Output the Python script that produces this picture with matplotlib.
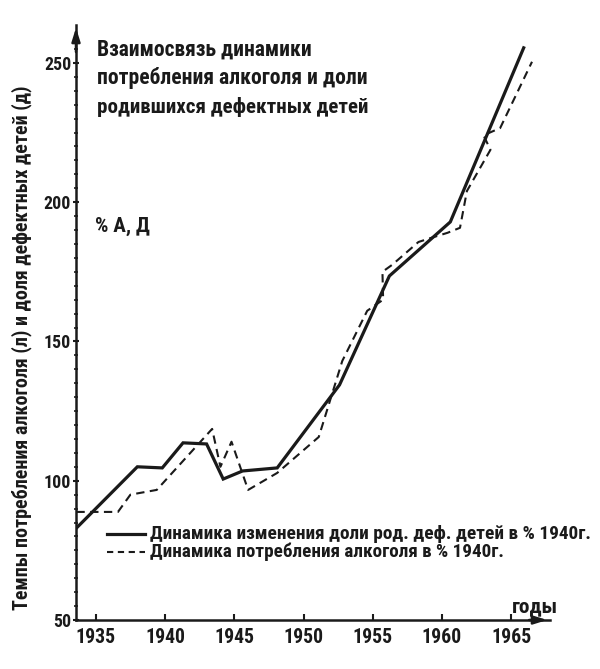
import math
import matplotlib
matplotlib.use("Agg")
import matplotlib.pyplot as plt
import matplotlib.font_manager as fm
from matplotlib.font_manager import FontProperties
from matplotlib.textpath import TextToPath
from matplotlib.ft2font import FT2Font
from matplotlib.ticker import MultipleLocator

# Solid: share of children born with defects (% of 1940)
defect_years = [1933.6, 1938.0, 1939.8, 1941.3, 1943.0, 1944.2, 1945.6, 1948.1,
                1952.6, 1956.2, 1960.6, 1965.9]
defect_vals = [83, 105, 104.6, 113.6, 113.2, 100.6, 103.5, 104.6,
               134.4, 173.5, 192.9, 255.4]

# Dashed: alcohol consumption (% of 1940)
alc_years = [1933.6, 1936.6, 1937.5, 1939.4, 1943.4, 1944.0, 1944.8, 1946.0,
             1948.1, 1951.1, 1952.8, 1954.6, 1955.75, 1955.7, 1956.4, 1958.3,
             1959.1, 1960.4, 1961.3, 1961.8, 1963.5, 1963.0, 1964.2, 1966.5]
alc_vals = [88.8, 88.8, 95, 96.7, 118.6, 105, 114, 96.7,
            102.8, 115.7, 143, 161, 165, 175, 177.5, 185.7,
            187, 189, 190.8, 204, 218.8, 224, 226.6, 250.4]

x_ticks = [1935, 1940, 1945, 1950, 1955, 1960, 1965]
y_ticks = [50, 100, 150, 200, 250]

title_lines = ["Взаимосвязь динамики",
               "потребления алкоголя и доли",
               "родившихся дефектных детей"]
ylabel = "Темпы потребления алкоголя (л) и доля дефектных детей (д)"
legend_defect = "Динамика изменения доли род. деф. детей в % 1940г."
legend_alc = "Динамика потребления алкоголя в % 1940г."


def pick_font():
    """Choose an installed bold sans font whose width/cap-height ratio is
    closest to the narrow heavy face of the reference."""
    target_ratio = 271 / 15.5
    t2p = TextToPath()
    best = None
    seen = set()
    for f in fm.fontManager.ttflist:
        key = f.fname.lower()
        if f.fname in seen or 'mono' in key or 'italic' in key or 'oblique' in key:
            continue
        if 'cjk' in key or ('serif' in key and 'sans' not in key):
            continue
        seen.add(f.fname)
        try:
            ft = FT2Font(f.fname)
            if ft.get_char_index(ord('Д')) == 0 or ft.get_char_index(ord('%')) == 0:
                continue
            prop = FontProperties(fname=f.fname, size=100)
            w, _, _ = t2p.get_text_width_height_descent(title_lines[1], prop, ismath=False)
            _, hc, dc = t2p.get_text_width_height_descent('В', prop, ismath=False)
            ch = hc - dc
            if ch <= 0:
                continue
            ratio = w / ch
        except Exception:
            continue
        wt = f.weight
        try:
            wt = int(wt)
        except Exception:
            wt = 700 if 'bold' in str(wt).lower() else 400
        score = abs(math.log(ratio / target_ratio))
        if wt < 600:
            score += 0.35
        score += abs(wt - 750) / 2000.0
        if best is None or score < best[0]:
            best = (score, f.fname)
    if best is not None:
        return FontProperties(fname=best[1])
    return FontProperties(family='DejaVu Sans', weight='bold')


FP = pick_font()


def fp(size):
    p = FP.copy()
    p.set_size(size)
    return p


ink = '#1a1a1a'
W, H = 600, 669
fig = plt.figure(figsize=(6.0, 6.69), dpi=100)
ax = fig.add_axes([76 / W, (H - 620) / H, (550 - 76) / W, (620 - 25) / H])
ax.set_xlim(1933.57, 1967.8)
ax.set_ylim(50, 263.6)

ax.plot(defect_years, defect_vals, color=ink, lw=2.3, solid_joinstyle='miter')
ax.plot(alc_years, alc_vals, color=ink, lw=1.5, linestyle=(0, (4, 2.6)))

for s in ['top', 'right']:
    ax.spines[s].set_visible(False)
for s in ['left', 'bottom']:
    ax.spines[s].set_linewidth(1.8)
    ax.spines[s].set_color(ink)

ax.set_xticks(x_ticks)
ax.set_yticks(y_ticks)
ax.yaxis.set_minor_locator(MultipleLocator(5))
ax.tick_params(axis='x', direction='in', length=4, width=1.5, pad=6, colors=ink)
ax.tick_params(axis='y', which='major', direction='inout', length=5, width=1.5, pad=1, colors=ink)
ax.tick_params(axis='y', which='minor', direction='inout', length=3, width=1.2, colors=ink)

ax.annotate('', xy=(0, 1.0), xytext=(0, 0.95), xycoords='axes fraction',
            arrowprops=dict(arrowstyle='-|>,head_length=0.8,head_width=0.25', color=ink, lw=1.8))
ax.annotate('', xy=(1.0, 0), xytext=(0.95, 0), xycoords='axes fraction',
            arrowprops=dict(arrowstyle='-|>,head_length=0.8,head_width=0.25', color=ink, lw=1.8))

texts = []  # (text, target_px, measure 'w' or 'h')


def put(x, y, s, target, size=12, rot=0, ha='left', dim='w'):
    t = fig.text(x / W, 1 - y / H, s, fontproperties=fp(size), color=ink,
                 rotation=rot, va='center', ha=ha)
    texts.append((t, target, dim))
    return t


put(97, 50, title_lines[0], 215, 16)
put(97, 78, title_lines[1], 271, 16)
put(97, 107, title_lines[2], 273, 16)
put(95, 226, "% А, Д", 55, 13)
put(22, 348, ylabel, 527, 12, rot=90, ha='center', dim='h')
put(512, 607, "годы", 46, 13)
put(150, 534, legend_defect, 440, 11)
put(150, 552, legend_alc, 353, 11)

ax.plot([107 / W, 145 / W], [1 - 534 / H] * 2, transform=fig.transFigure, color=ink, lw=2.3)
ax.plot([107 / W, 145 / W], [1 - 552 / H] * 2, transform=fig.transFigure, color=ink, lw=1.5,
        linestyle=(0, (3, 2.2)))

for lab in ax.get_xticklabels():
    lab.set_fontproperties(fp(13))
for lab in ax.get_yticklabels():
    lab.set_fontproperties(fp(12))

renderer = fig.canvas.get_renderer()
for _ in range(2):
    for t, target, dim in texts:
        bb = t.get_window_extent(renderer)
        cur = bb.width if dim == 'w' else bb.height
        if cur > 0:
            t.set_fontsize(t.get_fontsize() * target / cur)

# fit tick label sizes (x labels ~40 px wide, y labels ~27 px wide)
fig.canvas.draw()
xl = ax.get_xticklabels()[1]
xs = xl.get_fontsize() * 40 / max(xl.get_window_extent(renderer).width, 1)
yl = ax.get_yticklabels()[1]
ys = yl.get_fontsize() * 27 / max(yl.get_window_extent(renderer).width, 1)
for lab in ax.get_xticklabels():
    lab.set_fontproperties(fp(xs))
for lab in ax.get_yticklabels():
    lab.set_fontproperties(fp(ys))

fig.savefig('out.png', dpi=100, facecolor='white')
